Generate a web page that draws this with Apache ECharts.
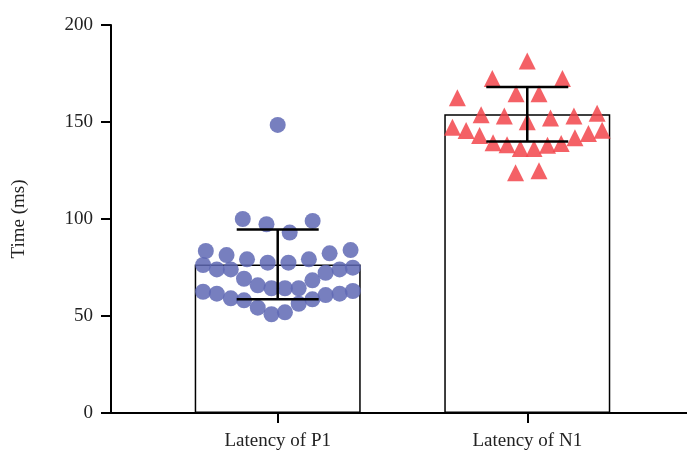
<!DOCTYPE html>
<html>
<head>
<meta charset="utf-8">
<script src="https://cdn.jsdelivr.net/npm/echarts@6/dist/echarts.min.js"></script>
<style>
html,body{margin:0;padding:0;background:#fff;}
#chart{width:687px;height:451px;}
</style>
</head>
<body>
<div id="chart"></div>
<script>
// ---- data ----
var categories = ['Latency of P1', 'Latency of N1'];
var yTicks = [0, 50, 100, 150, 200];
var barMeans = [76.6, 154];
var barSD = [18, 14];
// P1 points: horizontal swarm offset (category units), value (ms)
var p1Offsets = [0, -0.14, -0.045, 0.048, 0.14,
  -0.288, -0.205, -0.123, -0.04, 0.043, 0.125, 0.208, 0.292,
  -0.299, -0.244, -0.188, -0.135, -0.08, -0.025, 0.029, 0.084, 0.139, 0.192, 0.248, 0.301,
  -0.299, -0.244, -0.188, -0.135, -0.08, -0.025, 0.029, 0.084, 0.139, 0.192, 0.248, 0.301];
var p1Values = [148.5, 100, 97.3, 93, 99,
  83.5, 81.4, 79.2, 77.5, 77.5, 79.2, 82.3, 84,
  76.3, 74, 74, 69.2, 65.8, 64.3, 64.3, 64.3, 68.4, 72.3, 74, 74.9,
  62.5, 61.5, 59.1, 58.1, 54.3, 50.9, 51.9, 56.3, 58.6, 60.8, 61.5, 62.9];
// N1 points
var n1Offsets = [0, -0.14, 0.141, -0.28, -0.045, 0.047,
  -0.185, -0.092, 0, 0.093, 0.187, 0.28,
  -0.3, -0.245, -0.191, -0.137, -0.081, -0.028, 0.027, 0.081, 0.136, 0.191, 0.245, 0.3,
  -0.047, 0.047];
var n1Values = [181.4, 172.4, 172.4, 162.5, 164.5, 164.5,
  153.7, 153.1, 150.1, 152, 153.1, 154.5,
  147.3, 145.6, 143, 139.3, 138.3, 136.3, 136.3, 138, 138.9, 141.9, 144.1, 145.8,
  123.9, 124.9];

// ---- build ----
var catPos = categories.map(function (c, i) { return i + 1; });
function pts(base, offs, vals) {
  return vals.map(function (v, i) { return [base + offs[i], v]; });
}
var font = '"Liberation Serif", "DejaVu Serif", serif';
var chart = echarts.init(document.getElementById('chart'), null, {renderer: 'canvas'});
chart.setOption({
  animation: false,
  backgroundColor: '#fff',
  grid: {left: 111, right: 0, top: 25, bottom: 37, containLabel: false},
  xAxis: {
    type: 'value', min: 0.332, max: 2.64,
    axisLine: {show: true, lineStyle: {color: '#000', width: 2}},
    axisTick: {show: true, customValues: catPos, length: 10, lineStyle: {color: '#000', width: 2}},
    axisLabel: {show: true, customValues: catPos, margin: 19, color: '#222', fontFamily: font, fontSize: 19,
      formatter: function (v) { return categories[Math.round(v) - 1] || ''; }},
    splitLine: {show: false}
  },
  yAxis: {
    type: 'value', min: 0, max: 200, interval: 50,
    name: 'Time (ms)', nameLocation: 'middle', nameGap: 82, nameRotate: 90,
    nameTextStyle: {color: '#222', fontFamily: font, fontSize: 19},
    axisLine: {show: true, lineStyle: {color: '#000', width: 2}},
    axisTick: {show: true, length: 10, lineStyle: {color: '#000', width: 2}},
    axisLabel: {color: '#222', fontFamily: font, fontSize: 19, margin: 18,
      formatter: function (v) { return yTicks.indexOf(v) >= 0 ? String(v) : ''; }},
    splitLine: {show: false}
  },
  series: [
    {
      type: 'bar', z: 1, barWidth: 166,
      data: barMeans.map(function (m, i) { return [catPos[i], m]; }),
      itemStyle: {color: '#fff', borderColor: '#000', borderWidth: 1.5}
    },
    {
      type: 'scatter', z: 2, symbol: 'circle', symbolSize: 16,
      data: pts(catPos[0], p1Offsets, p1Values),
      itemStyle: {color: '#5f68b4', opacity: 0.85}
    },
    {
      type: 'scatter', z: 2, symbol: 'triangle', symbolSize: 17,
      data: pts(catPos[1], n1Offsets, n1Values),
      itemStyle: {color: '#f2454b', opacity: 0.85}
    },
    {
      type: 'custom', z: 3,
      data: barMeans.map(function (m, i) { return [catPos[i], m - barSD[i], m + barSD[i]]; }),
      renderItem: function (params, api) {
        var x = api.value(0);
        var lo = api.coord([x, api.value(1)]);
        var hi = api.coord([x, api.value(2)]);
        var hw = 41;
        var st = {stroke: '#000', lineWidth: 2.5};
        return {type: 'group', children: [
          {type: 'line', shape: {x1: lo[0], y1: lo[1], x2: hi[0], y2: hi[1]}, style: st},
          {type: 'line', shape: {x1: hi[0] - hw, y1: hi[1], x2: hi[0] + hw, y2: hi[1]}, style: st},
          {type: 'line', shape: {x1: lo[0] - hw, y1: lo[1], x2: lo[0] + hw, y2: lo[1]}, style: st}
        ]};
      }
    }
  ]
});
</script>
</body>
</html>
